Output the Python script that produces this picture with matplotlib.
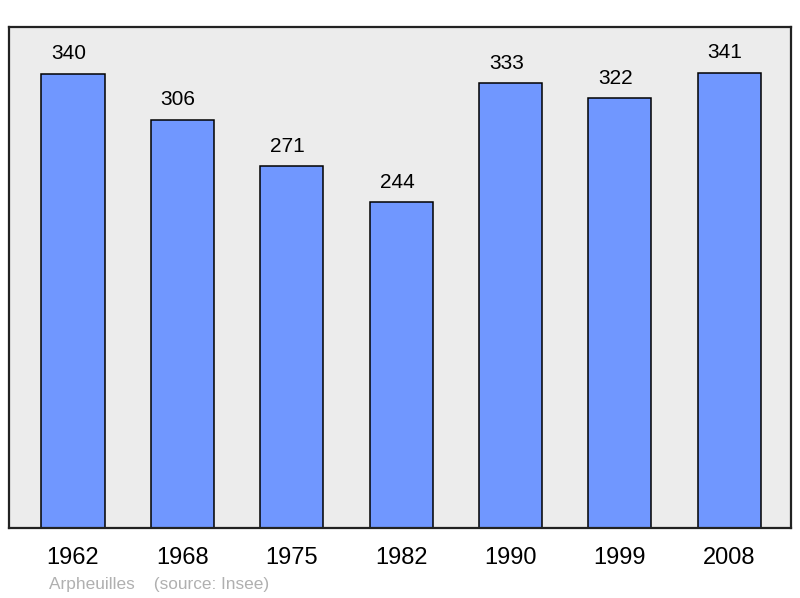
import matplotlib
matplotlib.use('Agg')
import matplotlib.pyplot as plt
import numpy as np

plt.rcParams['font.family'] = ['Liberation Sans', 'DejaVu Sans']

years = ['1962', '1968', '1975', '1982', '1990', '1999', '2008']
population = [340, 306, 271, 244, 333, 322, 341]

fig = plt.figure(figsize=(8, 5.98), dpi=100)
ax = fig.add_axes([9/800, 70/598, 782/800, 501/598])
ax.set_facecolor('#ececec')

x = np.arange(len(years))
ax.bar(x, population, width=0.577, color='#7097ff', edgecolor='black', linewidth=1.1, zorder=2)

for xi, v in zip(x, population):
    ax.annotate(str(v), (xi, v), xytext=(-3, 14.5), textcoords='offset points',
                ha='center', va='center', fontsize=15, color='black')

ax.set_xlim(-0.585, 6.565)
ax.set_ylim(0, 375.3)
ax.set_xticks(x)
ax.set_xticklabels(years, fontsize=17)
ax.tick_params(axis='x', length=0, pad=14)
ax.set_yticks([])
for s in ax.spines.values():
    s.set_linewidth(1.6)
    s.set_color('#222222')

fig.text(49/800, 1 - 584/598, 'Arpheuilles    (source: Insee)', fontsize=12.4,
         color='#b0b0b0', ha='left', va='center')

fig.savefig('out.png', dpi=100)
